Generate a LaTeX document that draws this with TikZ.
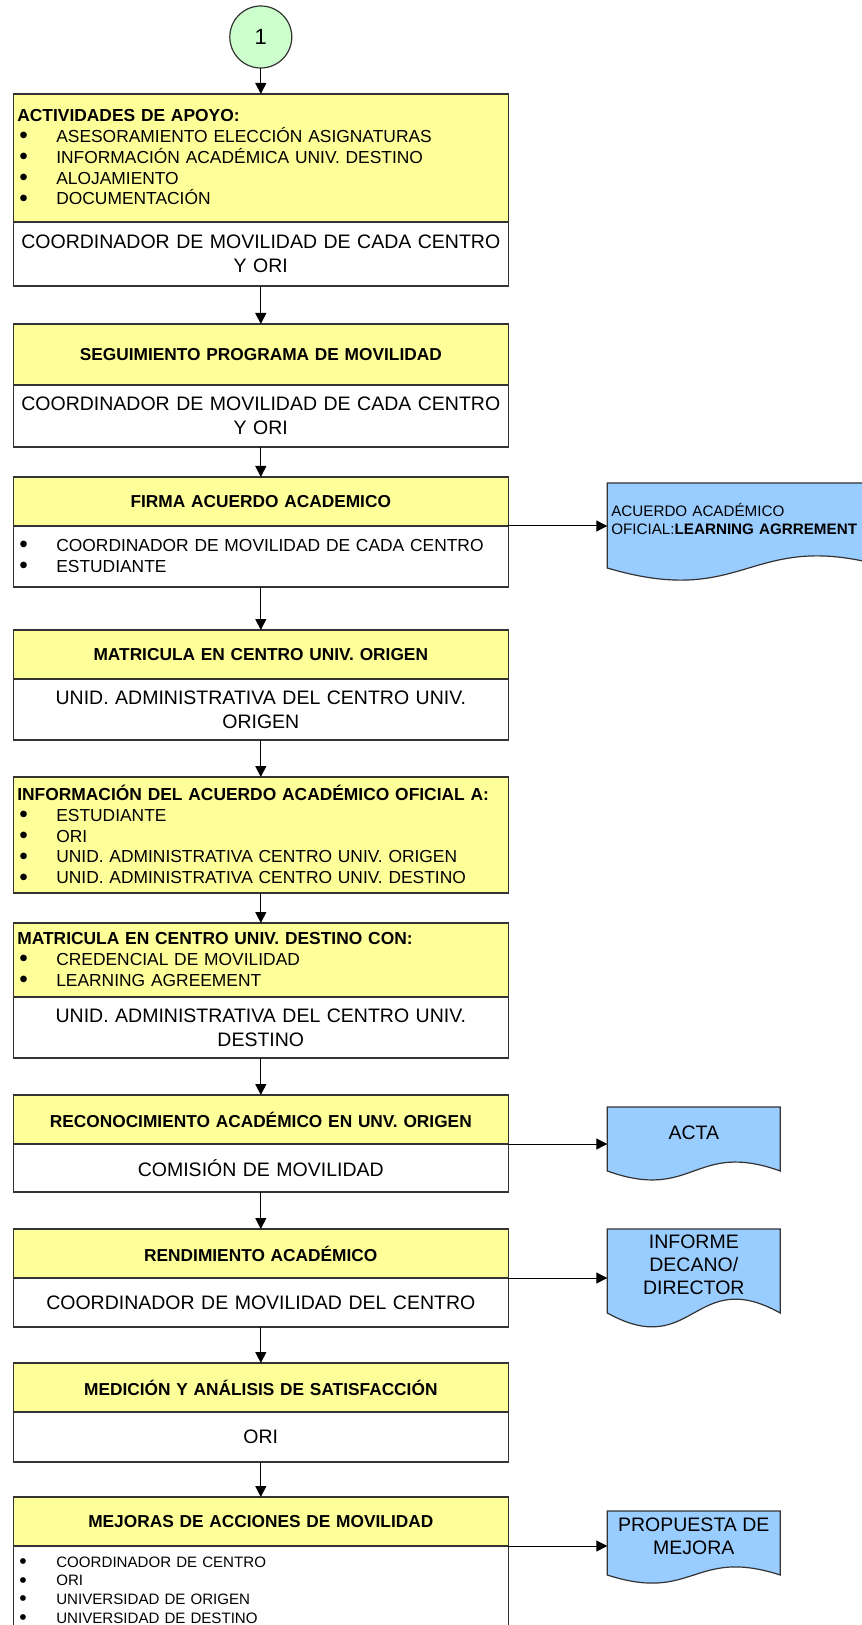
\documentclass[tikz,border=0pt]{standalone}
\usepackage{fontspec}
\setsansfont{Liberation Sans}
\usetikzlibrary{positioning, arrows.meta, backgrounds}

\definecolor{boxyellow}{HTML}{FFFF99}
\definecolor{boxgreen}{HTML}{CCFFCC}
\definecolor{docblue}{HTML}{99CCFF}
\definecolor{edge}{HTML}{333333}

\newcommand{\bul}{\hspace*{1pt}\makebox[18.5pt][l]{\raisebox{-0.7pt}{\scalebox{1.4}{\textbullet}}}}
% document outline: node, drop of the ends, upper and lower control
\newcommand{\docoutline}[4]{%
  \filldraw[fill=docblue, draw=edge, line width=0.6pt]
    (#1.north west) -- (#1.north east) -- ([yshift=-#2]#1.south east)
    .. controls ([yshift=#3]#1.south) and ([yshift=#4]#1.south) ..
    ([yshift=-#2]#1.south west) -- cycle;}

\begin{document}
\begin{tikzpicture}[
  every node/.style={font=\sffamily},
  startnode/.style={circle, draw=edge, fill=boxgreen, line width=0.6pt, minimum size=31pt, inner sep=0pt, outer sep=0pt, font=\sffamily\fontsize{11pt}{12pt}\selectfont},
  headbox/.style={rectangle, draw=edge, fill=boxyellow, line width=0.6pt, minimum width=247.5pt, text width=243.5pt, inner xsep=2pt, inner ysep=1pt, outer sep=0pt, align=center, font=\sffamily\bfseries\fontsize{8.65pt}{10.4pt}\selectfont},
  headlist/.style={headbox, align=left, font=\sffamily\fontsize{8.7pt}{10.4pt}\selectfont},
  bodybox/.style={headbox, fill=white, font=\sffamily\fontsize{9.75pt}{11.9pt}\selectfont},
  bodylist/.style={headlist, fill=white},
  bodysmall/.style={bodylist, inner ysep=5.3pt, font=\sffamily\fontsize{7.55pt}{9.35pt}\selectfont},
  docbox/.style={rectangle, minimum width=86.5pt, inner sep=1pt, outer sep=0pt, anchor=north west, align=center, font=\sffamily\fontsize{9.75pt}{11.4pt}\selectfont},
  arrow/.style={-{Triangle[length=5.5pt, width=5.5pt]}, line width=0.5pt}
]
\useasboundingbox (0,0) rectangle (430.5pt,-812.5pt);

% Start connector
\node[startnode] (c1) at (130.4pt,-18.5pt) {1};

% Process boxes
\node[headlist, below=13pt of c1, minimum height=64pt] (head1) {\textbf{ACTIVIDADES DE APOYO:}\\
  \bul ASESORAMIENTO ELECCIÓN ASIGNATURAS\\
  \bul INFORMACIÓN ACADÉMICA UNIV. DESTINO\\
  \bul ALOJAMIENTO\\
  \bul DOCUMENTACIÓN};
\node[bodybox, below=0pt of head1, minimum height=32pt] (body1) {COORDINADOR DE MOVILIDAD DE CADA CENTRO\\Y ORI};

\node[headbox, below=19pt of body1, minimum height=30.5pt] (head2) {SEGUIMIENTO PROGRAMA DE MOVILIDAD};
\node[bodybox, below=0pt of head2, minimum height=31pt] (body2) {COORDINADOR DE MOVILIDAD DE CADA CENTRO\\Y ORI};

\node[headbox, below=15pt of body2, minimum height=24.5pt] (head3) {FIRMA ACUERDO ACADEMICO};
\node[bodylist, below=0pt of head3, minimum height=30.5pt] (body3) {\bul COORDINADOR DE MOVILIDAD DE CADA CENTRO\\
  \bul ESTUDIANTE};

\node[headbox, below=21.5pt of body3, minimum height=24.5pt] (head4) {MATRICULA EN CENTRO UNIV. ORIGEN};
\node[bodybox, below=0pt of head4, minimum height=30.5pt] (body4) {UNID. ADMINISTRATIVA DEL CENTRO UNIV.\\ORIGEN};

\node[headlist, below=18.5pt of body4, minimum height=58pt] (head5) {\textbf{INFORMACIÓN DEL ACUERDO ACADÉMICO OFICIAL A:}\\
  \bul ESTUDIANTE\\
  \bul ORI\\
  \bul UNID. ADMINISTRATIVA CENTRO UNIV. ORIGEN\\
  \bul UNID. ADMINISTRATIVA CENTRO UNIV. DESTINO};

\node[headlist, below=15pt of head5, minimum height=37pt] (head6) {\textbf{MATRICULA EN CENTRO UNIV. DESTINO CON:}\\
  \bul CREDENCIAL DE MOVILIDAD\\
  \bul LEARNING AGREEMENT};
\node[bodybox, below=0pt of head6, minimum height=30.5pt] (body6) {UNID. ADMINISTRATIVA DEL CENTRO UNIV.\\DESTINO};

\node[headbox, below=18.5pt of body6, minimum height=24.5pt] (head7) {RECONOCIMIENTO ACADÉMICO EN UNV. ORIGEN};
\node[bodybox, below=0pt of head7, minimum height=24pt] (body7) {COMISIÓN DE MOVILIDAD};

\node[headbox, below=18.5pt of body7, minimum height=24.5pt] (head8) {RENDIMIENTO ACADÉMICO};
\node[bodybox, below=0pt of head8, minimum height=24.5pt] (body8) {COORDINADOR DE MOVILIDAD DEL CENTRO};

\node[headbox, below=18pt of body8, minimum height=24.5pt] (head9) {MEDICIÓN Y ANÁLISIS DE SATISFACCIÓN};
\node[bodybox, below=0pt of head9, minimum height=25pt] (body9) {ORI};

\node[headbox, below=17.5pt of body9, minimum height=24.5pt] (head10) {MEJORAS DE ACCIONES DE MOVILIDAD};
\node[bodysmall, below=0pt of head10] (body10) {\bul COORDINADOR DE CENTRO\\
  \bul ORI\\
  \bul UNIVERSIDAD DE ORIGEN\\
  \bul UNIVERSIDAD DE DESTINO};

% Documents
\node[docbox, minimum width=141.5pt, minimum height=36pt, text width=137.5pt, inner xsep=2pt, align=left,
  font=\sffamily\fontsize{7.6pt}{9.15pt}\selectfont] (acuerdo) at ([shift={(49.5pt,21.5pt)}]head3.south east)
  {ACUERDO ACADÉMICO\\OFICIAL:\textbf{LEARNING AGRREMENT}};
\node[docbox, minimum height=26pt] (acta) at ([shift={(49.5pt,18.5pt)}]head7.south east) {ACTA};
\node[docbox, minimum height=36pt] (informe) at ([shift={(49.5pt,24.5pt)}]head8.south east) {INFORME\\DECANO/\\DIRECTOR};
\node[docbox, minimum height=25.5pt] (propuesta) at ([shift={(49.5pt,17.5pt)}]head10.south east) {PROPUESTA DE\\MEJORA};

\begin{scope}[on background layer]
  \docoutline{acuerdo}{6.5pt}{14.5pt}{-27.5pt}
  \docoutline{acta}{6pt}{9.5pt}{-21.5pt}
  \docoutline{informe}{6pt}{18pt}{-30pt}
  \docoutline{propuesta}{6.5pt}{7.5pt}{-20.5pt}
\end{scope}

% Flow
\draw[arrow] (c1) -- (head1);
\draw[arrow] (body1) -- (head2);
\draw[arrow] (body2) -- (head3);
\draw[arrow] (body3) -- (head4);
\draw[arrow] (body4) -- (head5);
\draw[arrow] (head5) -- (head6);
\draw[arrow] (body6) -- (head7);
\draw[arrow] (body7) -- (head8);
\draw[arrow] (body8) -- (head9);
\draw[arrow] (body9) -- (head10);

% Outputs
\draw[arrow] (head3.south east) -- (acuerdo.west |- head3.south east);
\draw[arrow] (head7.south east) -- (acta.west |- head7.south east);
\draw[arrow] (head8.south east) -- (informe.west |- head8.south east);
\draw[arrow] (head10.south east) -- (propuesta.west |- head10.south east);

\end{tikzpicture}
\end{document}
